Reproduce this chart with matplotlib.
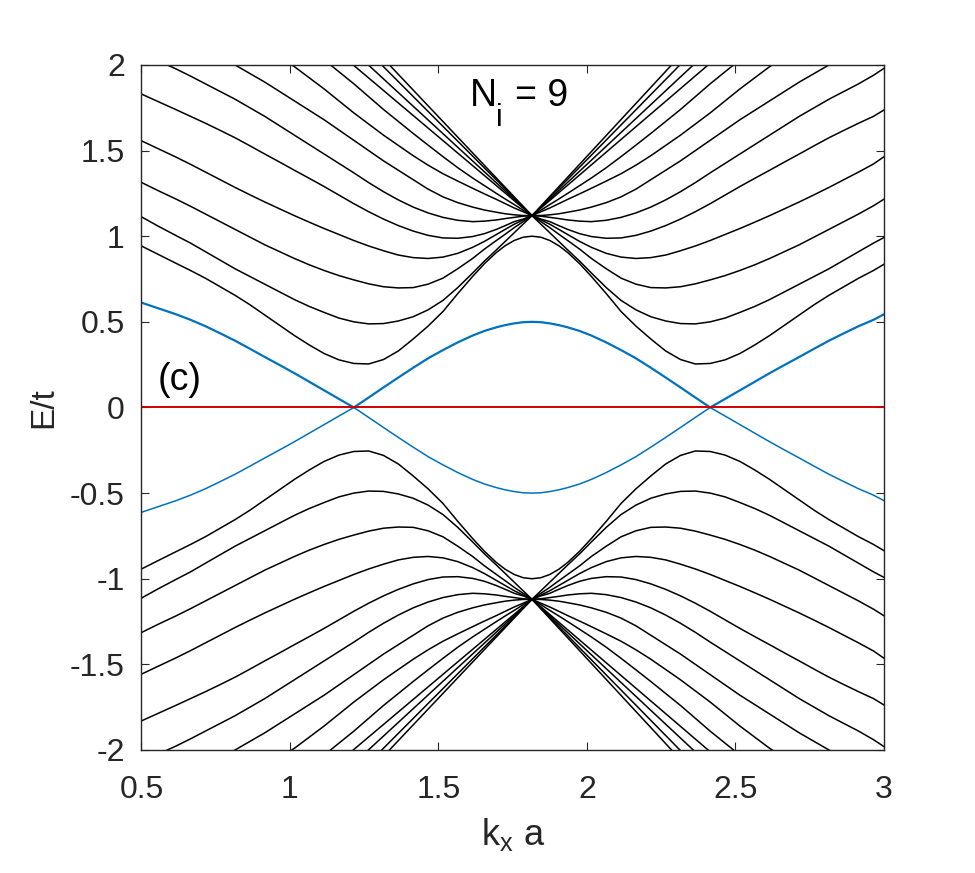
import matplotlib
matplotlib.use('Agg')
import matplotlib.pyplot as plt

plt.rcParams['font.family'] = ['Liberation Sans', 'DejaVu Sans']
plt.rcParams['mathtext.default'] = 'regular'

# k_x a sample positions
kx = [0.5, 0.555, 0.615, 0.665, 0.715, 0.765, 0.815, 0.865, 0.915, 0.965,
      1.015, 1.065, 1.115, 1.165, 1.215, 1.265, 1.315, 1.365, 1.415, 1.465,
      1.515, 1.565, 1.615, 1.655, 1.695, 1.725, 1.755, 1.785, 1.815,
      1.845, 1.875, 1.905, 1.935, 1.975, 2.015, 2.065, 2.115, 2.165, 2.215,
      2.265, 2.315, 2.365, 2.415, 2.465, 2.515, 2.565, 2.615, 2.665, 2.715,
      2.765, 2.815, 2.865, 2.915, 2.965, 3.0]

# upper (E > 0) bulk bands, lowest first; values above 2 run off the top
band1 = [0.943, 0.895, 0.843, 0.80, 0.755, 0.705, 0.655, 0.60, 0.54, 0.48, 0.42, 0.365, 0.315, 0.278, 0.257,
         0.254, 0.28, 0.33, 0.40, 0.475, 0.56, 0.665, 0.765, 0.84, 0.905, 0.945, 0.975, 0.994, 1.0,
         0.994, 0.975, 0.945, 0.905, 0.84, 0.765, 0.665, 0.56, 0.475, 0.40, 0.33, 0.28, 0.254,
         0.257, 0.278, 0.315, 0.365, 0.42, 0.48, 0.54, 0.60, 0.655, 0.705, 0.755, 0.80, 0.836]
band2 = [1.113, 1.06, 1.005, 0.96, 0.91, 0.86, 0.81, 0.765, 0.72, 0.675, 0.63, 0.59, 0.555, 0.522, 0.50,
         0.488, 0.49, 0.505, 0.53, 0.57, 0.625, 0.70, 0.785, 0.855, 0.92, 0.97, 1.02, 1.07, 1.12,
         1.07, 1.02, 0.97, 0.92, 0.855, 0.785, 0.70, 0.625, 0.57, 0.53, 0.505, 0.49, 0.488,
         0.50, 0.522, 0.555, 0.59, 0.63, 0.675, 0.72, 0.765, 0.81, 0.86, 0.91, 0.96, 0.992]
band3 = [1.314, 1.267, 1.218, 1.175, 1.13, 1.085, 1.04, 0.995, 0.95, 0.91, 0.87, 0.833, 0.80, 0.77, 0.745,
         0.722, 0.705, 0.698, 0.70, 0.72, 0.755, 0.81, 0.87, 0.925, 0.975, 1.012, 1.05, 1.085, 1.12,
         1.085, 1.05, 1.012, 0.975, 0.925, 0.87, 0.81, 0.755, 0.72, 0.70, 0.698, 0.705, 0.722,
         0.745, 0.77, 0.80, 0.833, 0.87, 0.91, 0.95, 0.995, 1.04, 1.085, 1.13, 1.178, 1.216]
band4 = [1.557, 1.512, 1.463, 1.42, 1.375, 1.33, 1.285, 1.242, 1.20, 1.16, 1.12, 1.082, 1.045, 1.01, 0.975,
         0.943, 0.915, 0.89, 0.875, 0.87, 0.878, 0.90, 0.935, 0.97, 1.01, 1.04, 1.07, 1.095, 1.12,
         1.095, 1.07, 1.04, 1.01, 0.97, 0.935, 0.90, 0.878, 0.87, 0.875, 0.89, 0.915, 0.943,
         0.975, 1.01, 1.045, 1.082, 1.12, 1.16, 1.20, 1.242, 1.285, 1.33, 1.375, 1.422, 1.464]
band5 = [1.83, 1.787, 1.74, 1.70, 1.66, 1.618, 1.575, 1.528, 1.48, 1.433, 1.385, 1.338, 1.29, 1.24, 1.19,
         1.143, 1.10, 1.062, 1.03, 1.005, 0.99, 0.988, 0.998, 1.015, 1.04, 1.062, 1.085, 1.10, 1.12,
         1.10, 1.085, 1.062, 1.04, 1.015, 0.998, 0.988, 0.99, 1.005, 1.03, 1.062, 1.10, 1.143,
         1.19, 1.24, 1.29, 1.338, 1.385, 1.433, 1.48, 1.528, 1.575, 1.618, 1.66, 1.70, 1.737]
band6 = [2.07, 2.025, 1.978, 1.935, 1.89, 1.845, 1.80, 1.75, 1.70, 1.645, 1.59, 1.535, 1.48, 1.425, 1.37,
         1.313, 1.26, 1.212, 1.17, 1.136, 1.11, 1.093, 1.085, 1.088, 1.095, 1.103, 1.11, 1.117, 1.12,
         1.117, 1.11, 1.103, 1.095, 1.088, 1.085, 1.093, 1.11, 1.136, 1.17, 1.212, 1.26, 1.313,
         1.37, 1.425, 1.48, 1.535, 1.59, 1.645, 1.70, 1.75, 1.80, 1.845, 1.89, 1.94, 1.98]
band7 = [2.26, 2.22, 2.17, 2.13, 2.09, 2.045, 2.0, 1.95, 1.90, 1.845, 1.79, 1.735, 1.68, 1.62, 1.56,
         1.50, 1.44, 1.385, 1.33, 1.275, 1.23, 1.196, 1.17, 1.153, 1.14, 1.131, 1.125, 1.121, 1.12,
         1.121, 1.125, 1.131, 1.14, 1.153, 1.17, 1.196, 1.23, 1.275, 1.33, 1.385, 1.44, 1.50,
         1.56, 1.62, 1.68, 1.735, 1.79, 1.845, 1.90, 1.95, 2.0, 2.045, 2.09, 2.13, 2.16]
band8 = [2.48, 2.44, 2.39, 2.35, 2.3, 2.25, 2.2, 2.15, 2.1, 2.045, 1.99, 1.925, 1.86, 1.79, 1.72,
         1.655, 1.59, 1.53, 1.47, 1.415, 1.365, 1.322, 1.28, 1.247, 1.215, 1.19, 1.165, 1.143, 1.12,
         1.143, 1.165, 1.19, 1.215, 1.247, 1.28, 1.322, 1.365, 1.415, 1.47, 1.53, 1.59, 1.655,
         1.72, 1.79, 1.86, 1.925, 1.99, 2.045, 2.1, 2.15, 2.2, 2.25, 2.3, 2.35, 2.38]
band9 = [2.7, 2.65, 2.6, 2.55, 2.5, 2.445, 2.39, 2.335, 2.28, 2.22, 2.16, 2.095, 2.03, 1.96, 1.89,
         1.815, 1.74, 1.67, 1.60, 1.532, 1.465, 1.40, 1.34, 1.295, 1.25, 1.217, 1.185, 1.152, 1.12,
         1.152, 1.185, 1.217, 1.25, 1.295, 1.34, 1.40, 1.465, 1.532, 1.60, 1.67, 1.74, 1.815,
         1.89, 1.96, 2.03, 2.095, 2.16, 2.22, 2.28, 2.335, 2.39, 2.445, 2.5, 2.55, 2.58]

# the steepest bands run straight into the crossing point: where they meet the top edge
fan_in_k = [1.213, 1.264, 1.309, 1.335]
fan_out_k = [2.408, 2.358, 2.313, 2.285]
cross_k = 1.815
cross_E = 1.12

# edge states (blue): upper envelope; the lower one is its mirror image
edge_top = [0.612, 0.58, 0.545, 0.512, 0.475, 0.433, 0.39, 0.343, 0.295, 0.248, 0.20, 0.15, 0.10, 0.05, 0.0,
            0.058, 0.117, 0.175, 0.232, 0.287, 0.335, 0.38, 0.42, 0.447, 0.468, 0.481, 0.491, 0.498, 0.5,
            0.498, 0.491, 0.481, 0.468, 0.447, 0.42, 0.38, 0.335, 0.287, 0.232, 0.175, 0.117, 0.058,
            0.0, 0.05, 0.10, 0.15, 0.20, 0.248, 0.295, 0.343, 0.39, 0.433, 0.475, 0.512, 0.544]

flat_k = [0.5, 3.0]
flat_E = [0.0, 0.0]

bands = [band1, band2, band3, band4, band5, band6, band7, band8, band9]

xticks = [0.5, 1, 1.5, 2, 2.5, 3]
xticklabels = ['0.5', '1', '1.5', '2', '2.5', '3']
yticks = [-2, -1.5, -1, -0.5, 0, 0.5, 1, 1.5, 2]
yticklabels = ['-2', '-1.5', '-1', '-0.5', '0', '0.5', '1', '1.5', '2']

fig = plt.figure(figsize=(9.75, 8.73), dpi=100)
ax = fig.add_axes([0.1451, 0.1409, 0.7615, 0.7847])

# spectrum is symmetric about E = 0 in the figure
for b in bands:
    ax.plot(kx, b, color='black', lw=1.1)
    ax.plot(kx, [-e for e in b], color='black', lw=1.1)
for k_in, k_out in zip(fan_in_k, fan_out_k):
    ax.plot([k_in, cross_k, k_out], [2.0, cross_E, 2.0], color='black', lw=1.1)
    ax.plot([k_in, cross_k, k_out], [-2.0, -cross_E, -2.0], color='black', lw=1.1)

ax.plot(kx, [-e for e in edge_top], color='#0072bd', lw=1.1)
ax.plot(kx, edge_top, color='#0072bd', lw=1.6)
ax.plot(flat_k, flat_E, color='#d00000', lw=1.4)

ax.set_xlim(0.5, 3)
ax.set_ylim(-2, 2)
ax.set_xticks(xticks)
ax.set_xticklabels(xticklabels)
ax.set_yticks(yticks)
ax.set_yticklabels(yticklabels)
ax.tick_params(direction='in', top=True, right=True, length=6, width=0.8,
               labelsize=23, colors='#262626', labelcolor='#262626')
ax.tick_params(axis='x', pad=18)
ax.tick_params(axis='y', pad=12)
for s in ax.spines.values():
    s.set_color('#262626')
    s.set_linewidth(1.0)

ax.set_xlabel('k$_x$ a', fontsize=26, color='#262626', labelpad=8)
ax.set_ylabel('E/t', fontsize=24, color='#262626', labelpad=8)

# N_i = 9 label, with the large MATLAB-style subscript
ax.text(1.606, 1.758, 'N', fontsize=27, ha='left', va='baseline', color='black')
ax.text(1.695, 1.645, 'i', fontsize=22, ha='left', va='baseline', color='black')
ax.text(1.758, 1.758, '= 9', fontsize=27, ha='left', va='baseline', color='black')
ax.text(0.556, 0.159, '(c)', fontsize=27, ha='left', va='center', color='black')

fig.savefig('out.png', dpi=100)
